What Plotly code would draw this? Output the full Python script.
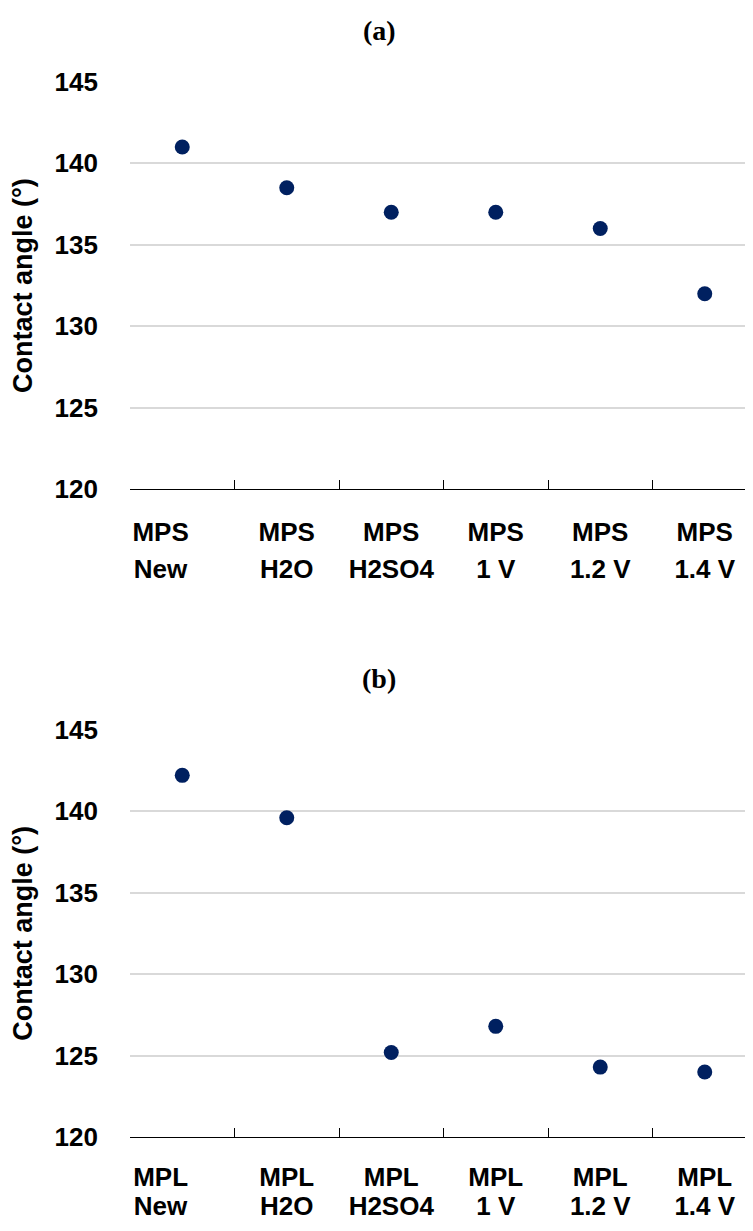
import plotly.graph_objects as go

# The page body adds an 8px margin; positions below are in screen pixels and shifted by OFF.
# Figure size chosen so the page needs no scrollbars in the 753x1231 window.
W, H = 737, 1215
OFF = 8

# ---- data ----
categories_a = ["MPS New", "MPS H2O", "MPS H2SO4", "MPS 1 V", "MPS 1.2 V", "MPS 1.4 V"]
values_a = [141.0, 138.5, 137.0, 137.0, 136.0, 132.0]
label_line1_a = ["MPS", "MPS", "MPS", "MPS", "MPS", "MPS"]
label_line2_a = ["New", "H2O", "H2SO4", "1 V", "1.2 V", "1.4 V"]

categories_b = ["MPL New", "MPL H2O", "MPL H2SO4", "MPL 1 V", "MPL 1.2 V", "MPL 1.4 V"]
values_b = [142.2, 139.6, 125.2, 126.8, 124.3, 124.0]
label_line1_b = ["MPL", "MPL", "MPL", "MPL", "MPL", "MPL"]
label_line2_b = ["New", "H2O", "H2SO4", "1 V", "1.2 V", "1.4 V"]

y_ticks = [120, 125, 130, 135, 140, 145]
panel_titles = ["(a)", "(b)"]
y_title = "Contact angle (°)"

MARKER = "#002060"
SANS = "Liberation Sans, Arial, sans-serif"
SERIF = "Liberation Serif, Times New Roman, serif"
PAD = "&nbsp;" * 6  # first label sits left of its category centre in the original


def shift_first(labels):
    return [labels[0] + PAD] + labels[1:]


fig = go.Figure()
fig.add_trace(go.Scatter(x=categories_a, y=values_a, mode="markers",
                         marker=dict(size=15, color=MARKER), xaxis="x", yaxis="y",
                         showlegend=False))
fig.add_trace(go.Scatter(x=categories_b, y=values_b, mode="markers",
                         marker=dict(size=15, color=MARKER), xaxis="x2", yaxis="y2",
                         showlegend=False))
# invisible carriers so the second-line label axes get drawn
fig.add_trace(go.Scatter(x=categories_a, y=values_a, mode="markers",
                         marker=dict(size=1, opacity=0), xaxis="x3", yaxis="y",
                         showlegend=False, hoverinfo="skip"))
fig.add_trace(go.Scatter(x=categories_b, y=values_b, mode="markers",
                         marker=dict(size=1, opacity=0), xaxis="x4", yaxis="y2",
                         showlegend=False, hoverinfo="skip"))

L = 130 - OFF
CAT_PX = 104.5
XR = [-0.5, -0.5 + (W - L) / CAT_PX]


def dom(top_px, bottom_px):
    top_px -= OFF
    bottom_px -= OFF
    return [1 - bottom_px / H, 1 - top_px / H]


lblfont = dict(family=SANS, size=26, color="black", weight="bold")
xcommon = dict(type="category", range=XR, tickson="boundaries",
               ticks="inside", ticklen=9, tickwidth=1.3, tickcolor="black",
               showline=True, linecolor="black", linewidth=1.3, showgrid=False,
               tickfont=lblfont, automargin=False, tickangle=0)
xover = dict(type="category", range=XR, showline=False, ticks="", showgrid=False,
             zeroline=False, tickfont=lblfont, automargin=False, tickangle=0)
ycommon = dict(range=[120, 145], tickvals=y_ticks, showgrid=True, gridcolor="#d9d9d9",
               gridwidth=1.5, zeroline=False, showline=False, ticks="",
               tickfont=lblfont, ticklabelstandoff=31, automargin=False,
               title=dict(text=y_title, font=dict(family=SANS, size=27, color="black", weight="bold"),
                          standoff=16))

fig.update_layout(
    width=W, height=H,
    margin=dict(l=L, r=0, t=0, b=0),
    paper_bgcolor="white", plot_bgcolor="white",
    xaxis=dict(xcommon, domain=[0, 1], anchor="y", tickvals=categories_a,
               ticktext=shift_first(label_line1_a), ticklabelstandoff=19),
    xaxis3=dict(xover, domain=[0, 1], anchor="y", overlaying="x", tickvals=categories_a,
                ticktext=shift_first(label_line2_a), ticklabelstandoff=62),
    yaxis=dict(ycommon, domain=dom(81.8, 489.3), anchor="x"),
    xaxis2=dict(xcommon, domain=[0, 1], anchor="y2", tickvals=categories_b,
                ticktext=shift_first(label_line1_b), ticklabelstandoff=16),
    xaxis4=dict(xover, domain=[0, 1], anchor="y2", overlaying="x2", tickvals=categories_b,
                ticktext=shift_first(label_line2_b), ticklabelstandoff=51),
    yaxis2=dict(ycommon, domain=dom(729.7, 1137.2), anchor="x2"),
)

pw = W - L
for txt, ycen in zip(panel_titles, [30, 678]):
    fig.add_annotation(text="<b>" + txt + "</b>", xref="paper", yref="paper",
                       x=(379 - OFF - L) / pw, y=1 - (ycen - OFF) / H,
                       xanchor="center", yanchor="middle",
                       showarrow=False, font=dict(family=SERIF, size=28, color="black"))

fig.write_html("out.html")
